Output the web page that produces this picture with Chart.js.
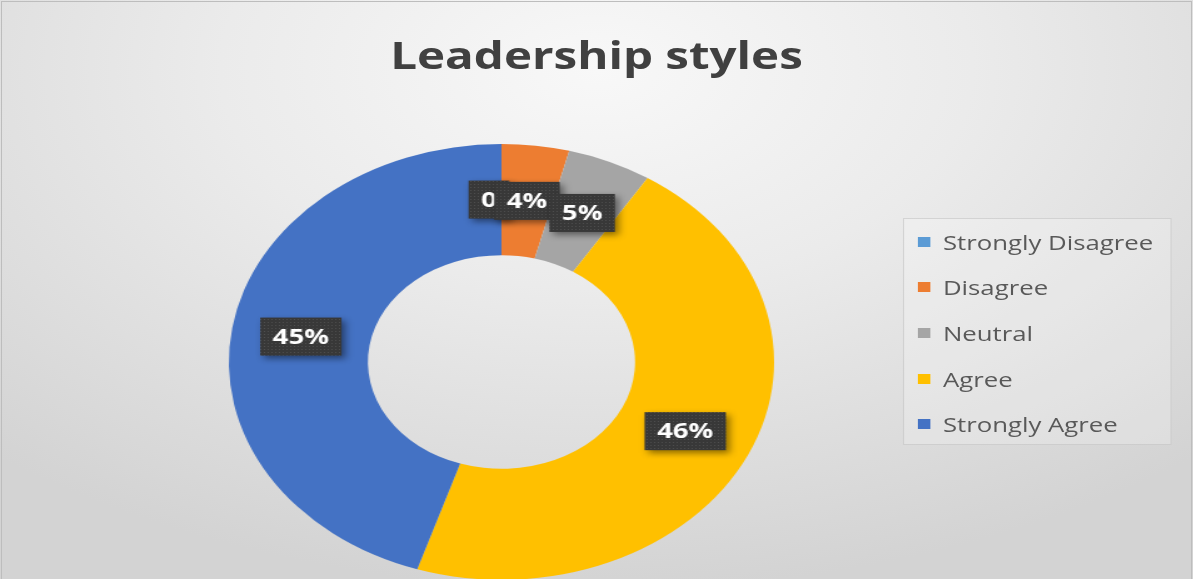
<!DOCTYPE html>
<html>
<head>
<meta charset="utf-8">
<script src="https://cdn.jsdelivr.net/npm/chart.js@4.4.1/dist/chart.umd.min.js"></script>
<style>
  html, body { margin: 0; padding: 0; }
  body {
    width: 1193px; height: 579px; overflow: hidden; position: relative;
    background: radial-gradient(ellipse 75% 90% at 50% 12%, #f8f8f8 0%, #ebebeb 42%, #d3d3d3 100%);
    font-family: "Open Sans", sans-serif;
  }
  #frame {
    position: absolute; left: 1px; top: 1px; right: 1px; bottom: -4px;
    border: 1px solid #bdbdbd; box-sizing: border-box;
  }
  #stage {
    position: absolute; left: 0; top: 0; width: 954px; height: 600px;
    transform-origin: 0 0;
  }
  #title {
    position: absolute; left: 0; width: 954px; top: 29px;
    text-align: center; font-weight: 700; font-size: 38px; color: #404040;
    line-height: 1.362;
  }
  #chart { position: absolute; left: 0; top: 0; }
  #legend {
    position: absolute; left: 722px; top: 218px; width: 215px; height: 227px;
    background: rgba(255,255,255,0.22); border: 1px solid rgba(190,190,190,0.55);
    box-sizing: border-box;
  }
  .item {
    position: absolute; left: 11px; height: 30px; display: flex; align-items: center;
    font-size: 20.6px; color: #595959; white-space: nowrap;
  }
  .item i { display: inline-block; width: 10px; height: 10px; margin-right: 10px; }
</style>
</head>
<body>
<div id="frame"></div>
<div id="stage">
  <div id="title">Leadership styles</div>
  <canvas id="chart" width="954" height="600"></canvas>
  <div id="legend"></div>
</div>
<script>
// Survey responses (percent of respondents)
const categories = ['Strongly Disagree', 'Disagree', 'Neutral', 'Agree', 'Strongly Agree'];
const shares = [0, 4, 5, 46, 45];
const colors = ['#5B9BD5', '#ED7D31', '#A5A5A5', '#FFC000', '#4472C4'];

const STRETCH = 1193 / 954;
document.getElementById('stage').style.transform = 'scaleX(' + STRETCH + ')';

// Legend rows
const legend = document.getElementById('legend');
const rowTops = [8, 53, 99, 145, 190];
categories.forEach((name, i) => {
  const row = document.createElement('div');
  row.className = 'item';
  row.style.top = rowTops[i] + 'px';
  const sw = document.createElement('i');
  sw.style.background = colors[i];
  row.appendChild(sw);
  row.appendChild(document.createTextNode(name));
  legend.appendChild(row);
});

// Dark dotted fill used behind the value labels
function dottedPattern(ctx) {
  const c = document.createElement('canvas');
  c.width = 3; c.height = 3;
  const p = c.getContext('2d');
  p.fillStyle = '#383838';
  p.fillRect(0, 0, 3, 3);
  p.fillStyle = '#4e4e4e';
  p.fillRect(1, 1, 1, 1);
  return ctx.createPattern(c, 'repeat');
}

// Value labels: dark boxes at the middle of each ring segment
const valueBoxes = {
  id: 'valueBoxes',
  afterDatasetsDraw(chart) {
    const ctx = chart.ctx;
    const meta = chart.getDatasetMeta(0);
    const fill = dottedPattern(ctx);
    ctx.save();
    ctx.font = '700 22px "Open Sans"';
    ctx.textAlign = 'center';
    ctx.textBaseline = 'middle';
    meta.data.forEach((arc, i) => {
      const p = arc.getProps(['x', 'y', 'startAngle', 'endAngle', 'innerRadius', 'outerRadius'], true);
      const mid = (p.startAngle + p.endAngle) / 2;
      const r = (p.innerRadius + p.outerRadius) / 2;
      let x = p.x + Math.cos(mid) * r;
      const y = p.y + Math.sin(mid) * r;
      const v = shares[i];
      const text = v === 0 ? '0' : v + '%';
      if (v === 0) x -= 10; // keep the empty-segment label clear of its neighbour
      const w = ctx.measureText(text).width + 20;
      const h = 38;
      ctx.save();
      ctx.shadowColor = 'rgba(0,0,0,0.45)';
      ctx.shadowBlur = 6;
      ctx.shadowOffsetX = 3;
      ctx.shadowOffsetY = 3;
      ctx.fillStyle = fill;
      ctx.fillRect(x - w / 2, y - h / 2, w, h);
      ctx.restore();
      ctx.fillStyle = '#ffffff';
      ctx.fillText(text, x, y + 1);
    });
    ctx.restore();
  }
};

new Chart(document.getElementById('chart'), {
  type: 'doughnut',
  data: {
    labels: categories,
    datasets: [{
      data: shares,
      backgroundColor: colors,
      borderWidth: 0
    }]
  },
  options: {
    responsive: false,
    animation: false,
    cutout: '49%',
    layout: { padding: { left: 183, top: 144, right: 335, bottom: 20 } },
    plugins: {
      legend: { display: false },
      title: { display: false },
      tooltip: { enabled: false }
    }
  },
  plugins: [valueBoxes]
});
</script>
</body>
</html>
